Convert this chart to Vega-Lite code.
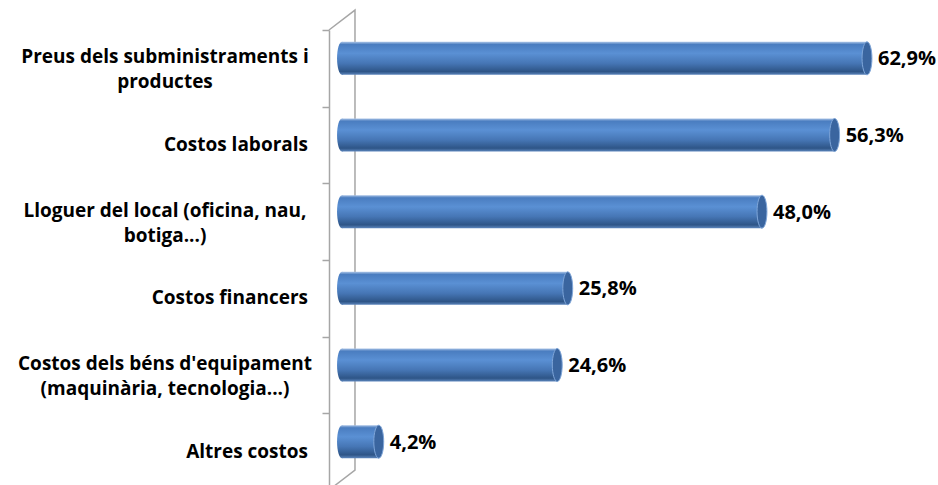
{
  "$schema": "https://vega.github.io/schema/vega-lite/v6.json",
  "autosize": {"type": "none"},
  "padding": {"left": 329, "top": 30, "right": 84, "bottom": 0},
  "width": 525,
  "height": 460,
  "background": "white",
  "config": {
    "view": {"stroke": null},
    "locale": {"number": {"decimal": ",", "thousands": ".", "grouping": [3], "currency": ["", " €"]}}
  },
  "datasets": {
    "costs": [
      {"cat": "Preus dels subministraments i productes", "lines": ["Preus dels subministraments i", "productes"], "v": 0.629},
      {"cat": "Costos laborals", "lines": ["Costos laborals"], "v": 0.563},
      {"cat": "Lloguer del local (oficina, nau, botiga...)", "lines": ["Lloguer del local (oficina, nau,", "botiga...)"], "v": 0.48},
      {"cat": "Costos financers", "lines": ["Costos financers"], "v": 0.258},
      {"cat": "Costos dels béns d'equipament (maquinària, tecnologia...)", "lines": ["Costos dels béns d'equipament", "(maquinària, tecnologia...)"], "v": 0.246},
      {"cat": "Altres costos", "lines": ["Altres costos"], "v": 0.042}
    ],
    "frame": [
      {"i": 0, "fx": 0, "fy": 6},
      {"i": 1, "fx": 0.0297, "fy": 6.26},
      {"i": 2, "fx": 0.0297, "fy": 0.26},
      {"i": 3, "fx": 0, "fy": 0}
    ]
  },
  "layer": [
    {
      "data": {"name": "frame"},
      "mark": {"type": "line", "color": "#a6a6a6", "strokeWidth": 1.5},
      "encoding": {
        "x": {"field": "fx", "type": "quantitative", "scale": {"domain": [0, 0.6], "nice": false, "clamp": true}, "axis": null},
        "y": {"field": "fy", "type": "quantitative", "scale": {"domain": [0, 6], "nice": false, "zero": false}, "axis": null},
        "order": {"field": "i"}
      }
    },
    {
      "data": {"name": "costs"},
      "encoding": {
        "y": {
          "field": "cat", "type": "nominal", "sort": null,
          "scale": {"paddingInner": 0, "paddingOuter": 0},
          "axis": {
            "title": null, "labels": false, "tickBand": "extent", "tickSize": 7,
            "tickColor": "#a6a6a6", "tickWidth": 1.5, "domainColor": "#a6a6a6", "domainWidth": 1.5
          }
        }
      },
      "layer": [
        {
          "mark": {
            "type": "point", "filled": true, "size": 1089, "opacity": 1,
            "shape": "M0,-1A0.3,1,0,1,1,0,1A0.3,1,0,1,1,0,-1Z",
            "xOffset": 13, "yOffset": -10,
            "fill": {"gradient": "linear", "x1": 0, "y1": 0, "x2": 0, "y2": 1, "stops": [
              {"offset": 0, "color": "#a9c3e6"},
              {"offset": 0.08, "color": "#4a7dc0"},
              {"offset": 0.35, "color": "#5a90d4"},
              {"offset": 0.65, "color": "#4676b5"},
              {"offset": 0.9, "color": "#2e5587"},
              {"offset": 1, "color": "#5d86bd"}
            ]}
          },
          "encoding": {"x": {"datum": 0, "type": "quantitative"}}
        },
        {
          "mark": {
            "type": "bar", "size": 33, "xOffset": 13, "x2Offset": 13, "yOffset": -10,
            "fill": {"gradient": "linear", "x1": 0, "y1": 0, "x2": 0, "y2": 1, "stops": [
              {"offset": 0, "color": "#a9c3e6"},
              {"offset": 0.08, "color": "#4a7dc0"},
              {"offset": 0.35, "color": "#5a90d4"},
              {"offset": 0.65, "color": "#4676b5"},
              {"offset": 0.9, "color": "#2e5587"},
              {"offset": 1, "color": "#5d86bd"}
            ]}
          },
          "encoding": {"x": {"field": "v", "type": "quantitative"}}
        },
        {
          "mark": {
            "type": "point", "filled": true, "size": 1089, "opacity": 1,
            "shape": "M0,-1A0.3,1,0,1,1,0,1A0.3,1,0,1,1,0,-1Z",
            "xOffset": 13, "yOffset": -10,
            "fill": "#3a659f", "stroke": "#7fa6d9", "strokeWidth": 1
          },
          "encoding": {"x": {"field": "v", "type": "quantitative"}}
        },
        {
          "mark": {
            "type": "text", "align": "left", "baseline": "middle", "dx": 24, "dy": -9,
            "font": "Open Sans", "fontWeight": "bold", "fontSize": 20, "color": "black"
          },
          "encoding": {
            "x": {"field": "v", "type": "quantitative"},
            "text": {"field": "v", "type": "quantitative", "format": ".1%"}
          }
        },
        {
          "transform": [{"filter": "length(datum.lines) == 1"}],
          "mark": {
            "type": "text", "align": "right", "baseline": "middle", "dx": -21,
            "font": "Open Sans", "fontWeight": "bold", "fontSize": 19, "color": "black"
          },
          "encoding": {
            "x": {"datum": 0, "type": "quantitative"},
            "text": {"field": "lines", "type": "nominal"}
          }
        },
        {
          "transform": [{"filter": "length(datum.lines) > 1"}],
          "mark": {
            "type": "text", "align": "center", "baseline": "middle", "dx": -164, "dy": -11, "lineHeight": 25,
            "font": "Open Sans", "fontWeight": "bold", "fontSize": 19, "color": "black"
          },
          "encoding": {
            "x": {"datum": 0, "type": "quantitative"},
            "text": {"field": "lines", "type": "nominal"}
          }
        }
      ]
    }
  ],
  "resolve": {"scale": {"y": "independent"}}
}
